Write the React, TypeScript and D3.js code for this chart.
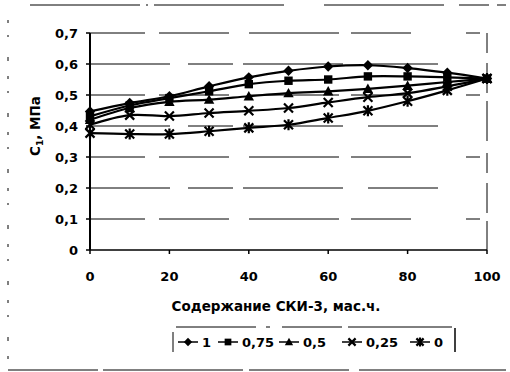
import React from "react";
import * as d3 from "d3";

const xValues = [0, 10, 20, 30, 40, 50, 60, 70, 80, 90, 100];
const seriesNames = ["1", "0,75", "0,5", "0,25", "0"];
const s1 = [0.447, 0.474, 0.496, 0.528, 0.557, 0.578, 0.592, 0.596, 0.587, 0.572, 0.553];
const s075 = [0.431, 0.466, 0.49, 0.512, 0.535, 0.546, 0.55, 0.56, 0.56, 0.557, 0.553];
const s05 = [0.42, 0.458, 0.478, 0.485, 0.496, 0.506, 0.512, 0.52, 0.53, 0.542, 0.553];
const s025 = [0.404, 0.435, 0.432, 0.442, 0.449, 0.458, 0.476, 0.493, 0.506, 0.528, 0.553];
const s0 = [0.377, 0.374, 0.374, 0.383, 0.394, 0.404, 0.426, 0.449, 0.48, 0.515, 0.553];
const markerTypes = ["diamond", "square", "triangle", "x", "asterisk"];
const yTicks = [0, 0.1, 0.2, 0.3, 0.4, 0.5, 0.6, 0.7];
const yTickLabels = ["0", "0,1", "0,2", "0,3", "0,4", "0,5", "0,6", "0,7"];
const xTicks = [0, 20, 40, 60, 80, 100];
const xTitle = "Содержание СКИ-3, мас.ч.";

const allSeries = [s1, s075, s05, s025, s0];

const FONT = "'DejaVu Sans', 'Liberation Sans', Arial, sans-serif";

function Marker({ type, x, y, k = 1 }: { type: string; x: number; y: number; k?: number }) {
  const r = 5.2 * k;
  if (type === "diamond") {
    return <path d={`M${x},${y - r}L${x + r},${y}L${x},${y + r}L${x - r},${y}Z`} fill="#000" />;
  }
  if (type === "square") {
    const h = 4.2 * k;
    return <rect x={x - h} y={y - h} width={2 * h} height={2 * h} fill="#000" />;
  }
  if (type === "triangle") {
    return <path d={`M${x},${y - r}L${x + r},${y + r - 1}L${x - r},${y + r - 1}Z`} fill="#000" />;
  }
  const a = 4.5 * k;
  if (type === "x") {
    return (
      <path d={`M${x - a},${y - a}L${x + a},${y + a}M${x - a},${y + a}L${x + a},${y - a}`} stroke="#000" strokeWidth={2.2} />
    );
  }
  return (
    <path
      d={`M${x - a},${y - a}L${x + a},${y + a}M${x - a},${y + a}L${x + a},${y - a}M${x},${y - a - 1}L${x},${y + a + 1}`}
      stroke="#000"
      strokeWidth={2.2}
    />
  );
}

export default function App() {
  const W = 510;
  const H = 372;
  const x = d3.scaleLinear().domain([0, 100]).range([90, 487]);
  const y = d3.scaleLinear().domain([0, 0.7]).range([250, 33]);
  const line = d3
    .line<number>()
    .x((_, i) => x(xValues[i]))
    .y((d) => y(d))
    .curve(d3.curveCatmullRom.alpha(0.5));

  const legendItems = [
    { lx: 180, tx: 202 },
    { lx: 220, tx: 242 },
    { lx: 281, tx: 303 },
    { lx: 344, tx: 366 },
    { lx: 412, tx: 434 },
  ];

  return (
    <svg
      width={W}
      height={H}
      style={{ position: "absolute", left: 0, top: 0, background: "#fff" }}
      fontFamily={FONT}
    >
      <rect x={0} y={0} width={W} height={H} fill="#fff" />
      {/* outer (scanned) border */}
      <line x1={30} x2={506} y1={5} y2={5} stroke="#000" strokeWidth={1} strokeDasharray="110 6 2 6 130 40 120 15 30 8" />
      <line x1={8} x2={8} y1={20} y2={370} stroke="#000" strokeWidth={1} strokeDasharray="3 12 2 20 4 15" />
      <line x1={8} x2={506} y1={370} y2={370} stroke="#000" strokeWidth={1} strokeDasharray="90 5 140 6 100 10 150" />

      {/* gridlines */}
      {yTicks.slice(1).map((t, i) => (
        <line
          key={t}
          x1={x(0)}
          x2={x(100)}
          y1={y(t)}
          y2={y(t)}
          stroke="#000"
          strokeWidth={1}
          strokeDasharray={i % 2 === 0 ? "55 14 70 20 90 12 60" : "80 18 45 10 100 25 70"}
        />
      ))}
      {/* right border */}
      <line x1={x(100)} x2={x(100)} y1={y(0.7)} y2={y(0)} stroke="#000" strokeWidth={1} strokeDasharray="20 10 30 8 40 12" />

      {/* axes */}
      <line x1={x(0)} x2={x(0)} y1={y(0.7)} y2={y(0)} stroke="#000" strokeWidth={2} />
      <line x1={x(0)} x2={x(100)} y1={y(0)} y2={y(0)} stroke="#000" strokeWidth={1.5} />
      {yTicks.map((t, i) => (
        <g key={"yt" + t}>
          <line x1={x(0) - 4} x2={x(0)} y1={y(t)} y2={y(t)} stroke="#000" strokeWidth={1.5} />
          <text x={78} y={y(t)} dy="0.36em" textAnchor="end" fontSize={13} fontWeight="bold">
            {yTickLabels[i]}
          </text>
        </g>
      ))}
      {xTicks.map((t) => (
        <g key={"xt" + t}>
          <line x1={x(t)} x2={x(t)} y1={y(0)} y2={y(0) + 4} stroke="#000" strokeWidth={1.5} />
          <text x={x(t)} y={281} textAnchor="middle" fontSize={13} fontWeight="bold">
            {t}
          </text>
        </g>
      ))}

      {/* series */}
      {allSeries.map((s, si) => (
        <g key={"s" + si}>
          <path d={line(s) || ""} fill="none" stroke="#000" strokeWidth={2.2} />
          {s.map((v, i) => (
            <Marker key={i} type={markerTypes[si]} x={x(xValues[i])} y={y(v)} />
          ))}
        </g>
      ))}

      {/* axis titles */}
      <text x={276} y={311} textAnchor="middle" fontSize={13.5} fontWeight="bold">
        {xTitle}
      </text>
      <text transform="translate(40,126) rotate(-90)" textAnchor="middle" fontSize={13.5} fontWeight="bold">
        <tspan>C</tspan>
        <tspan fontSize={9} dy={3}>1</tspan>
        <tspan dy={-3}>, МПа</tspan>
      </text>

      {/* legend */}
      <line x1={176} x2={452} y1={327} y2={327} stroke="#000" strokeWidth={1} strokeDasharray="80 10 4 12 60 6 110" />
      <line x1={173} x2={173} y1={332} y2={352} stroke="#000" strokeWidth={1} />
      <line x1={455} x2={455} y1={328} y2={352} stroke="#000" strokeWidth={1.5} />
      {seriesNames.map((n, i) => (
        <g key={"lg" + n}>
          <line x1={legendItems[i].lx - 2} x2={legendItems[i].lx + 18} y1={342} y2={342} stroke="#000" strokeWidth={1.5} />
          <Marker type={markerTypes[i]} x={legendItems[i].lx + 8} y={342} k={0.8} />
          <text x={legendItems[i].tx} y={342} dy="0.36em" fontSize={13} fontWeight="bold">
            {n}
          </text>
        </g>
      ))}
    </svg>
  );
}
